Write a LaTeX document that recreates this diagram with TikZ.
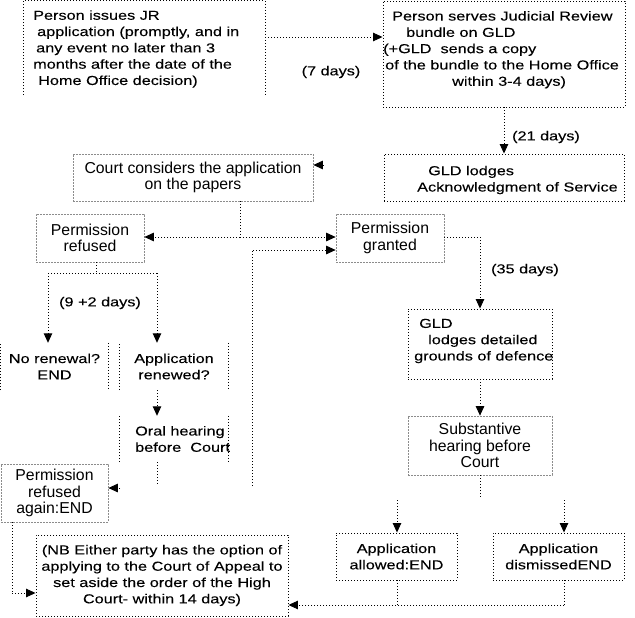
\documentclass[tikz,border=0pt]{standalone}
\usepackage{fontspec}
\setmainfont{Liberation Sans}
\newfontfamily\pixfont[FakeStretch=1.25,FakeBold=0.1]{Liberation Sans}
\usetikzlibrary{arrows.meta}
\begin{document}
\begin{tikzpicture}[x=1pt,y=-1pt,
  pix/.style={font=\pixfont\fontsize{13}{16.3}\selectfont, inner sep=0pt},
  gtx/.style={font=\fontsize{15.8}{16.5}\selectfont, inner sep=0pt},
  dotb/.style={draw=black, line width=0.9pt, dash pattern=on 0.9pt off 2.1pt},
  gbox/.style={draw=black!45, line width=0.7pt, dash pattern=on 2pt off 1pt},
  dl/.style={draw=black, line width=0.9pt, dash pattern=on 0.9pt off 2.1pt},
  arr/.style={dl, -{Triangle[length=9.5pt,width=8.5pt]}},
  sides/.style={draw=none},
]
\useasboundingbox (0,0) rectangle (635,618);

% ---- boxes ----
\node[sides, minimum width=241pt, minimum height=94pt] (b1) at (144.5,48) {};
\node[pix, align=left, anchor=west] (b1t) at (33,49)
  {Person issues JR\\\hspace*{4pt}application (promptly, and in\\\hspace*{3pt}any event no later than 3\\months after the date of the\\\hspace*{5pt}Home Office decision)};
\draw[dotb] (b1.south west) -- (b1.north west) -- (b1.north east) -- (b1.south east);

\node[dotb, minimum width=242pt, minimum height=106pt] (b2) at (504,54) {};
\node[pix, align=left, anchor=west] (b2t) at (383,49.8)
  {\hspace*{9pt}Person serves Judicial Review\\\hspace*{23pt}bundle on GLD\\(+GLD\ \ sends a copy\\\hspace*{2pt}of the bundle to the Home Office\\\hspace*{69pt}within 3-4 days)};

\node[dotb, minimum width=240pt, minimum height=47pt] (ack) at (504,177.5) {};
\node[pix, align=left, anchor=west] (ackt) at (417,180)
  {\hspace*{11pt}GLD lodges\\Acknowledgment of Service};

\node[gbox, gtx, align=center, minimum width=240pt, minimum height=47pt] (court) at (193,177.5)
  {Court considers the application\\on the papers};

\node[gbox, gtx, align=center, minimum width=108pt, minimum height=48pt] (refused) at (90,238)
  {Permission\\refused};
\node[gbox, gtx, align=center, minimum width=108pt, minimum height=48pt] (granted) at (390,238)
  {Permission\\granted};

\node[dotb, minimum width=144pt, minimum height=70pt] (det) at (480,344) {};
\node[pix, align=left, anchor=west] (dett) at (414,341)
  {\hspace*{5pt}GLD\\\hspace*{14pt}lodges detailed\\grounds of defence};

\node[gbox, gtx, align=center, minimum width=144pt, minimum height=59pt] (subst) at (480,445.5)
  {Substantive\\hearing before\\Court};

\node[dotb, pix, align=center, minimum width=121pt, minimum height=47pt] (allowed) at (396.5,556.5)
  {Application\\allowed:END};
\node[dotb, pix, align=center, minimum width=131pt, minimum height=47pt] (dismissed) at (558.5,556.5)
  {Application\\dismissedEND};

\node[dotb, pix, align=center, minimum width=252pt, minimum height=81pt] (nb) at (162,575.5)
  {(NB Either party has the option of\\applying to the Court of Appeal to\\set aside the order of the High\\Court- within 14 days)};

\node[gbox, gtx, align=center, minimum width=107pt, minimum height=58pt] (refagain) at (54.5,493)
  {Permission\\refused\\again:END};

\node[pix, sides, align=center, minimum width=107pt, minimum height=47pt] (norenew) at (54.5,366.5)
  {No renewal?\\END};
\draw[dotb] (norenew.south west) -- (norenew.north west) (norenew.north east) -- (norenew.south east);

\node[pix, sides, align=center, minimum width=108pt, minimum height=47pt] (renewed) at (174,366.5)
  {Application\\renewed?};
\draw[dotb] (renewed.south west) -- (renewed.north west) (renewed.north east) -- (renewed.south east);

\node[sides, minimum width=108pt, minimum height=46pt] (oral) at (174,439) {};
\node[pix, align=left, anchor=west] (oralt) at (135,439) {Oral hearing\\before\ \ Court};
\draw[dotb] (oral.south west) -- (oral.north west) (oral.north east) -- (oral.south east);

% ---- labels ----
\node[pix] (d7) at (331,72) {(7 days)};
\node[pix] (d21) at (546,137) {(21 days)};
\node[pix] (d35) at (525,270) {(35 days)};
\node[pix] (d92) at (100,303) {(9 +2 days)};

% ---- connectors ----
\draw[arr] ([yshift=11pt]b1.east) -- ([yshift=11pt]b1.east -| b2.west);
\draw[arr] (b2.south) -- (ack.north);

\coordinate (j1) at (240,237);
\draw[dl] (court.south -| j1) -- (j1);
\draw[arr] (j1) -- (refused.east |- j1);
\draw[arr] (j1) -- (granted.west |- j1);

\coordinate (c2) at (252,486);
\draw[arr] (c2) |- ([yshift=-12pt]granted.west);

\draw[arr] ([yshift=1pt]granted.east) -| (det.north);
\draw[arr] (det.south) -- (subst.north);
\coordinate (c3) at (480,497);
\draw[dl] (subst.south) -- (c3);

\coordinate (c4) at (397,500);
\coordinate (c5) at (564,500);
\draw[arr] (c4) -- (c4 |- allowed.north);
\draw[arr] (c5) -- (c5 |- dismissed.north);
\coordinate (c6) at (564,605);
\draw[dl] (c5 |- dismissed.south) -- (c6);
\draw[dl] (c4 |- allowed.south) -- (c4 |- c6);
\draw[arr] (c6) -- (nb.east |- c6);

\coordinate (j2) at (96,273);
\coordinate (j3) at (48,273);
\coordinate (j4) at (157,273);
\draw[dl] (refused.south -| j2) -- (j2);
\draw[dl] (j3) -- (j4);
\draw[arr] (j3) -- (j3 |- norenew.north);
\draw[arr] (j4) -- (j4 |- renewed.north);
\draw[arr] (j4 |- renewed.south) -- (j4 |- oral.north);
\coordinate (c7) at (157,486);
\draw[dl] (c7 |- oral.south) -- (c7);

\coordinate (c8) at (324,165);
\draw[arr] (c8) -- (court.east |- c8);
\coordinate (c9) at (120,488);
\draw[arr] (c9) -- (refagain.east |- c9);

\coordinate (c10) at (12,593);
\draw[dl] (refagain.south -| c10) -- (c10);
\draw[arr] (c10) -- (nb.west |- c10);
\end{tikzpicture}
\end{document}
